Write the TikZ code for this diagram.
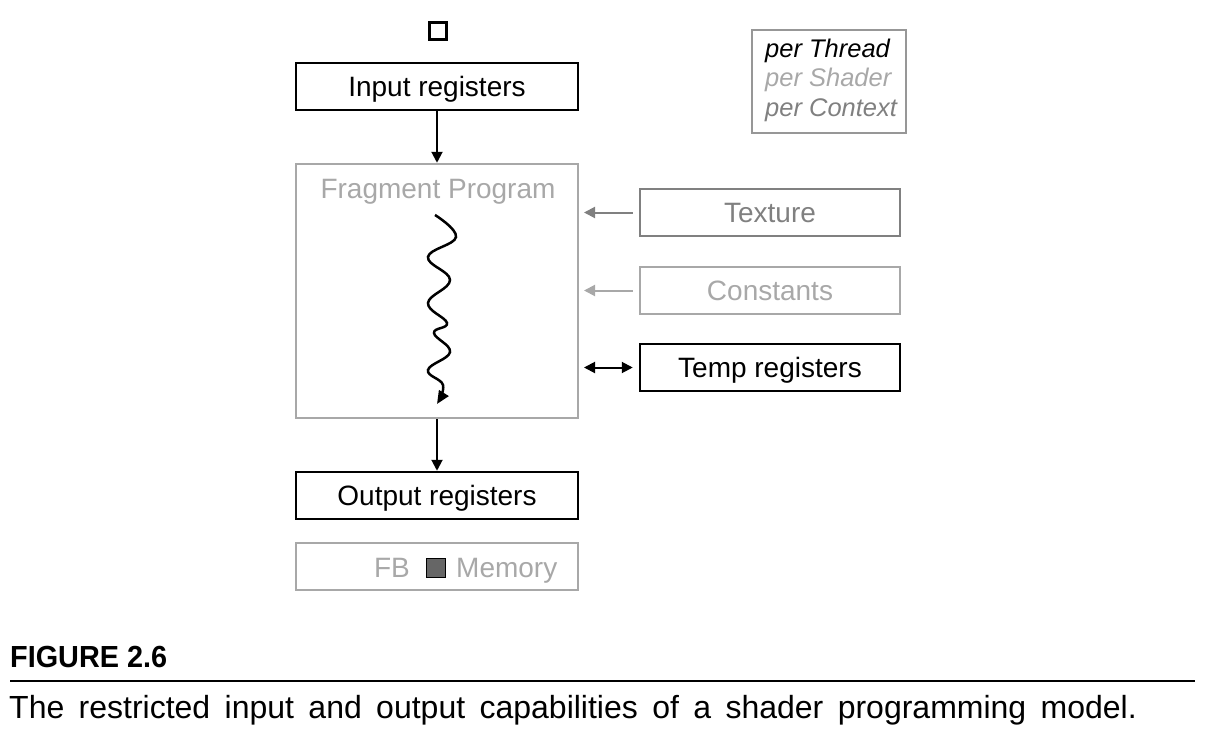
\documentclass[tikz,border=0pt]{standalone}
\usepackage{fontspec}
\setmainfont{Liberation Sans}
\usetikzlibrary{arrows.meta}
\definecolor{lgray}{HTML}{A8A8A8}
\definecolor{mgray}{HTML}{808080}
\definecolor{dgray}{HTML}{666666}
\begin{document}
\begin{tikzpicture}[x=1pt,y=-1pt,
  box/.style={draw, line width=2.5pt, minimum width=282pt, minimum height=47pt, inner sep=0pt, text height=20pt, text depth=0pt, font=\fontsize{28}{32}\selectfont},
  sbox/.style={box, minimum width=260pt},
  arr/.style={line width=2pt, -{Triangle[length=11pt,width=11pt]}},
  leg/.style={font=\fontsize{25.5}{30}\selectfont\itshape, inner sep=0pt, anchor=base west}
]
\useasboundingbox (0,0) rectangle (1208,752);
% small square
\node[draw, line width=2.5pt, minimum size=17pt, inner sep=0pt] (sq) at (438,31) {};
% input registers
\node[box] (in) at (437,86.5) {Input registers};
% fragment program
\node[draw=lgray, line width=2.5pt, minimum width=282pt, minimum height=254pt, inner sep=0pt] (fp) at (437,291) {};
\node[text=lgray, font=\fontsize{28}{32}\selectfont, inner sep=0pt, anchor=base] (fpt) at (438,198) {Fragment Program};
% output registers
\node[box] (out) at (437,495.5) {Output registers};
% FB memory
\node[box, draw=lgray] (fb) at (437,566.5) {};
\node[text=lgray, font=\fontsize{28}{32}\selectfont, inner sep=0pt, anchor=base east] (fbt) at (410,577) {FB};
\node[draw, fill=dgray, line width=1pt, minimum size=19pt, inner sep=0pt] (fbsq) at (436,567.5) {};
\node[text=lgray, font=\fontsize{28}{32}\selectfont, inner sep=0pt, anchor=base west] (memt) at (456,577) {Memory};
% right boxes
\node[sbox, draw=mgray, text=mgray] (tex) at (770,212.5) {Texture};
\node[sbox, draw=lgray, text=lgray] (con) at (770,290.5) {Constants};
\node[sbox] (tmp) at (770,367.5) {Temp registers};
% legend
\node[draw=lgray!90!black, line width=2.5pt, minimum width=154pt, minimum height=103pt, inner sep=0pt] (lg) at (829,81.5) {};
\node[leg] (l1) at (765,58) {per Thread};
\node[leg, text=lgray] (l2) at (765,87) {per Shader};
\node[leg, text=mgray] (l3) at (765,116) {per Context};
% arrows
\draw[arr] (in.south) -- (fp.north);
\draw[arr] (fp.south) -- (out.north);
\coordinate (texa) at (584,212.5);
\coordinate (cona) at (584,290.5);
\coordinate (tmpa) at (584,367.5);
\draw[arr, mgray] ([xshift=-6pt]tex.west) -- (texa);
\draw[arr, lgray] ([xshift=-6pt]con.west) -- (cona);
\draw[line width=2pt, {Triangle[length=11pt,width=11pt]}-{Triangle[length=11pt,width=11pt]}] (tmpa) -- ([xshift=-6pt]tmp.west);
% wavy thread
\draw[line width=2.5pt, -{Triangle[length=13pt,width=11pt]}] plot[smooth, tension=0.7] coordinates {(435,215) (456,237) (428,257) (450,280) (428,303) (447,323) (434,333) (450,352) (428,370) (443,385) (437,404)};
% caption
\node[inner sep=0pt, anchor=base west, font=\fontsize{30.5}{36}\selectfont\bfseries] (fig) at (10,667) {\scalebox{0.945}[1]{FIGURE 2.6}};
\draw[line width=1.5pt] (10,681) -- (1195,681);
\node[inner sep=0pt, anchor=base west, font=\fontsize{32}{36}\selectfont] (cap) at (9,718) {\spaceskip=0.45em The restricted input and output capabilities of a shader programming model.};
\end{tikzpicture}
\end{document}
